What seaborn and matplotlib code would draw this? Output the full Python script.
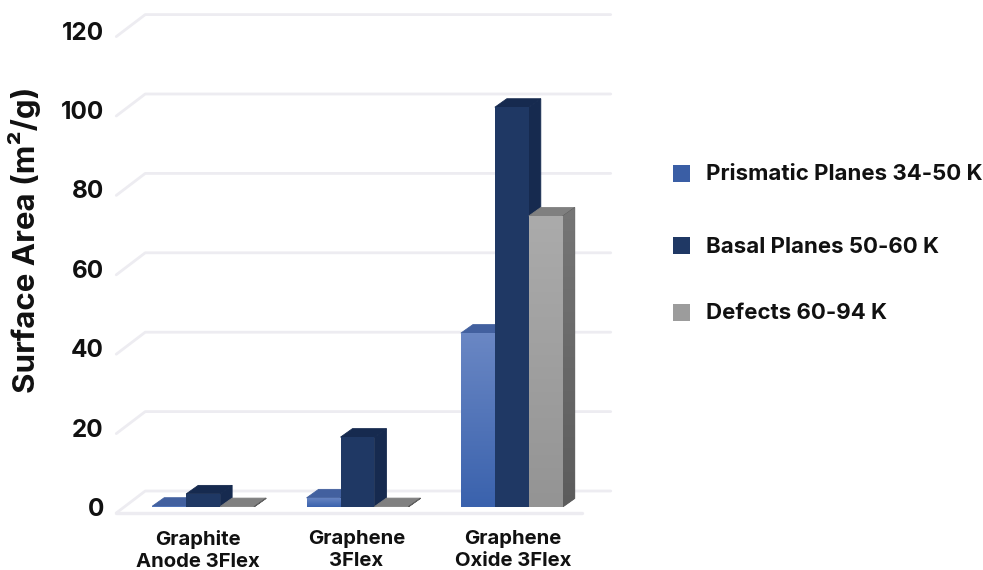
import numpy as np
import pandas as pd
import seaborn as sns
import matplotlib.pyplot as plt
from matplotlib.patches import Polygon, Rectangle
from matplotlib.colors import LinearSegmentedColormap
from matplotlib.transforms import ScaledTranslation

categories = ['Graphite\nAnode 3Flex', 'Graphene\n3Flex', 'Graphene\nOxide 3Flex']
series_names = ['Prismatic Planes 34-50 K', 'Basal Planes 50-60 K', 'Defects 60-94 K']
prismatic = [0.2, 2.3, 43.8]
basal = [3.3, 17.6, 100.7]
defects = [0.1, 0.1, 73.3]
y_ticks = [0, 20, 40, 60, 80, 100, 120]

# front, top, side colours; front goes top -> bottom as a gradient
styles = [
    {'front': ('#6a87c4', '#3a62ad'), 'top': '#42609f', 'side': ('#2f4a80', '#2f4a80')},
    {'front': ('#1f3864', '#1f3864'), 'top': '#162a4f', 'side': ('#162a4f', '#162a4f')},
    {'front': ('#ababab', '#949494'), 'top': '#808080', 'side': ('#767676', '#5c5c5c')},
]
legend_colors = ['#3a5ea5', '#1f3864', '#9c9c9c']

sns.set_style('white')
plt.rcParams['font.family'] = ['Inter', 'DejaVu Sans']
plt.rcParams['font.weight'] = 'bold'

W, H = 983, 570
fig = plt.figure(figsize=(W / 100, H / 100), dpi=100)
# axes = plane of the bar fronts
ax = fig.add_axes([126 / W, 1 - 507 / H, 463 / W, 476.4 / H])

df = pd.DataFrame({
    'cat': categories * 3,
    'series': np.repeat(series_names, 3),
    'value': prismatic + basal + defects,
})
sns.barplot(data=df, x='cat', y='value', hue='series', order=categories,
            hue_order=series_names, width=0.66, gap=0, legend=False, ax=ax)

ax.set_xlim(-0.5, 2.5)
ax.set_ylim(0, 120)
px_x = 1 / 154.5
px_y = 120 / 476.4
dx = 12 * px_x
dy = 8.5 * px_y


def gradient(poly_or_bar, c_top, c_bottom, z):
    cmap = LinearSegmentedColormap.from_list('g', [c_top, c_bottom])
    xs = poly_or_bar.get_path().vertices
    pts = poly_or_bar.get_patch_transform().transform(xs)
    im = ax.imshow(np.linspace(0, 1, 128).reshape(-1, 1), cmap=cmap, aspect='auto',
                   extent=(pts[:, 0].min(), pts[:, 0].max(), pts[:, 1].min(), pts[:, 1].max()),
                   origin='upper', zorder=z, clip_on=True)
    im.set_clip_path(poly_or_bar)


for i, container in enumerate(ax.containers):
    st = styles[i]
    z = 2 + i
    for bar in container:
        x0, w, h = bar.get_x(), bar.get_width(), bar.get_height()
        x1 = x0 + w
        top = Polygon([(x0, h), (x1, h), (x1 + dx, h + dy), (x0 + dx, h + dy)],
                      closed=True, fc=st['top'], ec=st['top'], lw=0.6, zorder=z)
        side = Polygon([(x1, 0), (x1 + dx, dy), (x1 + dx, h + dy), (x1, h)],
                       closed=True, fc=st['side'][1], ec=st['side'][1], lw=0.6, zorder=z)
        ax.add_patch(top)
        ax.add_patch(side)
        if st['side'][0] != st['side'][1]:
            gradient(side, st['side'][0], st['side'][1], z + 0.1)
        bar.set_zorder(z + 0.2)
        bar.set_facecolor(st['front'][1])
        bar.set_edgecolor('none')
        if st['front'][0] != st['front'][1]:
            gradient(bar, st['front'][0], st['front'][1], z + 0.3)

ax.set_xlim(-0.5, 2.5)
ax.set_ylim(0, 120)

# 3D wall gridlines: front edge -> back edge -> right end
grid_c = '#edecf1'
xf = (116 - 203) * px_x
xb = (145 - 203) * px_x
xr = (611 - 203) * px_x
front_off = 6 * px_y
back_off = 16 * px_y
for v in y_ticks:
    ax.plot([xf, xb, xr], [v - front_off, v + back_off, v + back_off], color=grid_c,
            lw=2, clip_on=False, zorder=0, solid_joinstyle='round')
ax.plot([xf, (582 - 203) * px_x], [-front_off, -front_off], color=grid_c, lw=2.4,
        clip_on=False, zorder=0)

ax.set_xlabel('')
ax.set_ylabel('Surface Area (m²/g)', fontsize=22.5, fontweight='bold', color='#111111')
ax.yaxis.set_label_coords(41 / W, 1 - 240 / H, transform=fig.transFigure)
ax.set_yticks(y_ticks)
ax.tick_params(axis='y', length=0, pad=16, labelsize=17.5, labelcolor='#111111')
ax.tick_params(axis='x', length=0, pad=16.5, labelsize=14.6, labelcolor='#111111')
for lab, shift in zip(ax.get_xticklabels(), [-5, -1, 1]):
    lab.set_linespacing(1.28)
    lab.set_transform(lab.get_transform() + ScaledTranslation(shift / 100, 0, fig.dpi_scale_trans))
sns.despine(ax=ax, left=True, bottom=True)
ax.patch.set_alpha(0)

# legend, spacing in the original is uneven so placed by hand
for name, col, yp in zip(series_names, legend_colors, [173, 246, 312]):
    fig.add_artist(Rectangle((673 / W, 1 - (yp + 8.5) / H), 17 / W, 17 / H,
                             transform=fig.transFigure, fc=col, ec='none'))
    fig.text(706 / W, 1 - (yp + 1) / H, name, fontsize=16, fontweight='bold',
             color='#111111', va='center', ha='left')

fig.savefig('out.png', dpi=100, facecolor='white')
